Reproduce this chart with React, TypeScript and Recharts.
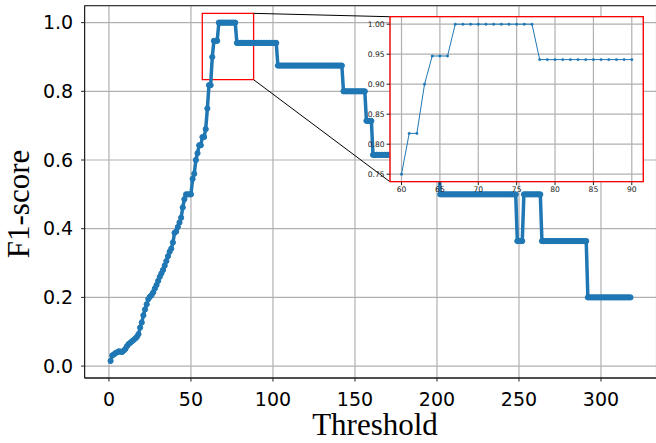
import { LineChart, Line, XAxis, YAxis, CartesianGrid, ReferenceArea, ReferenceLine, Label } from 'recharts'

// F1-score for thresholds 1..66 (the rising part)
const riseScores = [
  0.015, 0.031, 0.034, 0.038, 0.04, 0.043, 0.042, 0.041, 0.045, 0.05,
  0.058, 0.064, 0.068, 0.072, 0.076, 0.08, 0.085, 0.093, 0.112, 0.127,
  0.148, 0.165, 0.18, 0.195, 0.202, 0.207, 0.215, 0.226, 0.236, 0.248,
  0.26, 0.27, 0.28, 0.293, 0.306, 0.32, 0.333, 0.342, 0.36, 0.388,
  0.392, 0.405, 0.418, 0.432, 0.462, 0.486, 0.5, 0.5, 0.5, 0.5,
  0.545, 0.56, 0.6, 0.62, 0.643, 0.643, 0.667, 0.667, 0.69, 0.75,
  0.818, 0.818, 0.9, 0.947, 0.947, 0.947,
]

// flat stretches after the peak
const plateauStart = [67, 78, 103, 143, 157, 161, 202, 249, 253, 264, 292]
const plateauEnd = [77, 102, 142, 156, 160, 201, 248, 252, 263, 291, 318]
const plateauScore = [1.0, 0.941, 0.875, 0.8, 0.714, 0.615, 0.5, 0.364, 0.5, 0.364, 0.2]

const xTicks = [0, 50, 100, 150, 200, 250, 300]
const yTicks = [0, 0.2, 0.4, 0.6, 0.8, 1.0]
const insetXTicks = [60, 65, 70, 75, 80, 85, 90]
const insetYTicks = [0.75, 0.8, 0.85, 0.9, 0.95, 1.0]

const data: { x: number; f1: number }[] = []
riseScores.forEach((v, i) => data.push({ x: i + 1, f1: v }))
plateauStart.forEach((s, k) => {
  for (let t = s; t <= plateauEnd[k]; t += 1) data.push({ x: t, f1: plateauScore[k] })
})
const insetData = data.filter((d) => d.x >= 60 && d.x <= 90)

const blue = '#1f77b4'
const spine = '#222'
const gridColor = '#b0b0b0'
const tickFont = { fontSize: 19, fontFamily: 'DejaVu Sans', fill: '#000' }
const smallFont = { fontSize: 7.6, fontFamily: 'DejaVu Sans', fill: '#222' }

const YTitle = () => (
  <text x={29} y={204} transform="rotate(-90 29 204)" textAnchor="middle"
    fontFamily="Liberation Serif" fontSize={31} fill="#000">F1-score</text>
)
const XTitle = () => (
  <text x={375} y={435} textAnchor="middle" fontFamily="Liberation Serif" fontSize={31} fill="#000">Threshold</text>
)

const App = () => {
  return (
    <div style={{ position: 'absolute', left: 0, top: 0, width: 656, height: 443, overflow: 'hidden', background: '#fff' }}>
      <LineChart width={660} height={443} data={data} margin={{ top: 5.7, right: 3.5, bottom: 0, left: 0 }}>
        <CartesianGrid stroke={gridColor} strokeWidth={1.2} />
        <XAxis type="number" dataKey="x" domain={[-14.85, 333.85]} allowDataOverflow ticks={xTicks}
          height={65} tick={tickFont} tickSize={3.5} tickMargin={11.5}
          axisLine={{ stroke: spine }} tickLine={{ stroke: spine }}>
          <Label content={<XTitle />} />
        </XAxis>
        <YAxis type="number" domain={[-0.0347, 1.0493]} allowDataOverflow ticks={yTicks}
          width={84.6} tick={tickFont} tickSize={3.5} tickMargin={8}
          tickFormatter={(v: number) => v.toFixed(1)}
          axisLine={{ stroke: spine }} tickLine={{ stroke: spine }}>
          <Label content={<YTitle />} />
        </YAxis>
        <ReferenceArea x1={-14.85} x2={333.85} y1={-0.0347} y2={1.0493} fill="none" stroke={spine} strokeWidth={1} />
        <ReferenceLine segment={[{ x: 88.2, y: 1.027 }, { x: 171.3, y: 1.0172 }]} stroke="#000" strokeWidth={1} />
        <ReferenceLine segment={[{ x: 88.2, y: 0.8338 }, { x: 171.3, y: 0.5368 }]} stroke="#000" strokeWidth={1} />
        <Line type="linear" dataKey="f1" stroke={blue} strokeWidth={3.5}
          dot={{ r: 2.6, fill: blue, stroke: blue, strokeWidth: 1 }} isAnimationActive={false} />
        <ReferenceArea x1={56.9} x2={88.2} y1={0.8338} y2={1.027} fill="none" stroke="#ff0000" strokeWidth={1.3} />
      </LineChart>

      <div style={{ position: 'absolute', left: 340, top: 0 }}>
        <LineChart width={310} height={200} data={insetData} margin={{ top: 16.7, right: 6.7, bottom: 0, left: 0 }}>
          <CartesianGrid stroke={gridColor} strokeWidth={1.2} fill="#fff" fillOpacity={1} />
          <XAxis type="number" dataKey="x" domain={[58.5, 91.5]} allowDataOverflow ticks={insetXTicks}
            height={18.3} tick={smallFont} tickSize={3.5} tickMargin={1.9}
            axisLine={false} tickLine={{ stroke: spine }} />
          <YAxis type="number" domain={[0.7375, 1.0125]} allowDataOverflow ticks={insetYTicks}
            width={50} tick={smallFont} tickSize={3.5} tickMargin={1.8}
            tickFormatter={(v: number) => v.toFixed(2)}
            axisLine={false} tickLine={{ stroke: spine }} />
          <Line type="linear" dataKey="f1" stroke={blue} strokeWidth={1}
            dot={{ r: 1.2, fill: blue, stroke: blue, strokeWidth: 0.5 }} isAnimationActive={false} />
          <ReferenceArea x1={58.5} x2={91.5} y1={0.7375} y2={1.0125} fill="none" stroke="#ff0000" strokeWidth={1.3} />
        </LineChart>
      </div>
    </div>
  )
}

export default App
